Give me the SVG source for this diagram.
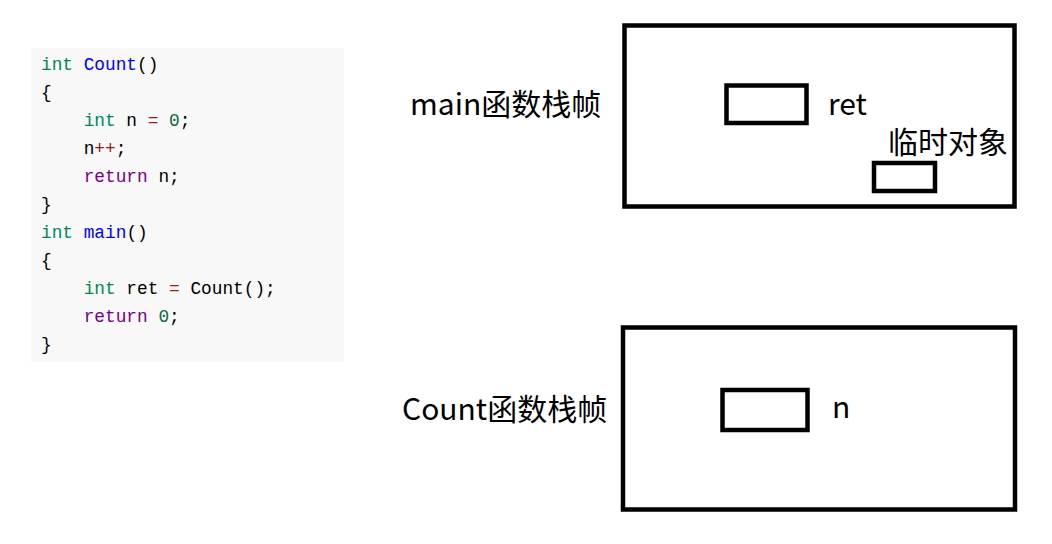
<svg xmlns="http://www.w3.org/2000/svg" width="1052" height="544" viewBox="0 0 1052 544">
<style>
.code{font-family:"Liberation Mono","DejaVu Sans Mono",monospace;font-size:17.8px;fill:#000}
.kw{fill:#008855}.fn{fill:#0000ff}.op{fill:#981a1a}.num{fill:#116644}.ret{fill:#770088}
.lbl{font-family:"Noto Sans CJK SC","Noto Sans",sans-serif;font-size:30px;fill:#000}
.box{fill:none;stroke:#000;stroke-width:4.5}
</style>
<rect width="1052" height="544" fill="#fff"/>
<g id="code">
<rect x="31" y="48" width="313" height="314" fill="#f8f8f8"/>
<text class="code" x="41" y="70" xml:space="preserve"><tspan class="kw">int</tspan> <tspan class="fn">Count</tspan>()</text>
<text class="code" x="41" y="98">{</text>
<text class="code" x="41" y="126" xml:space="preserve">    <tspan class="kw">int</tspan> n <tspan class="op">=</tspan> <tspan class="num">0</tspan>;</text>
<text class="code" x="41" y="154" xml:space="preserve">    n<tspan class="op">++</tspan>;</text>
<text class="code" x="41" y="182" xml:space="preserve">    <tspan class="ret">return</tspan> n;</text>
<text class="code" x="41" y="210">}</text>
<text class="code" x="41" y="238" xml:space="preserve"><tspan class="kw">int</tspan> <tspan class="fn">main</tspan>()</text>
<text class="code" x="41" y="266">{</text>
<text class="code" x="41" y="294" xml:space="preserve">    <tspan class="kw">int</tspan> ret <tspan class="op">=</tspan> Count();</text>
<text class="code" x="41" y="322" xml:space="preserve">    <tspan class="ret">return</tspan> <tspan class="num">0</tspan>;</text>
<text class="code" x="41" y="350">}</text>
</g>
<g id="main-frame">
<text class="lbl" x="410" y="115">main函数栈帧</text>
<rect class="box" x="624.5" y="25.5" width="390" height="181"/>
</g>
<g id="ret-var">
<rect class="box" x="726.5" y="85.5" width="80" height="37.5"/>
<text class="lbl" x="828" y="115">ret</text>
</g>
<g id="temp-obj">
<text class="lbl" x="888" y="153">临时对象</text>
<rect class="box" x="874" y="163" width="61" height="28"/>
</g>
<g id="count-frame">
<text class="lbl" x="402" y="420">Count函数栈帧</text>
<rect class="box" x="623" y="327.5" width="392" height="182"/>
</g>
<g id="n-var">
<rect class="box" x="722.5" y="390" width="85" height="40"/>
<text class="lbl" x="832" y="418">n</text>
</g>
<g id="connectors"></g>
</svg>
